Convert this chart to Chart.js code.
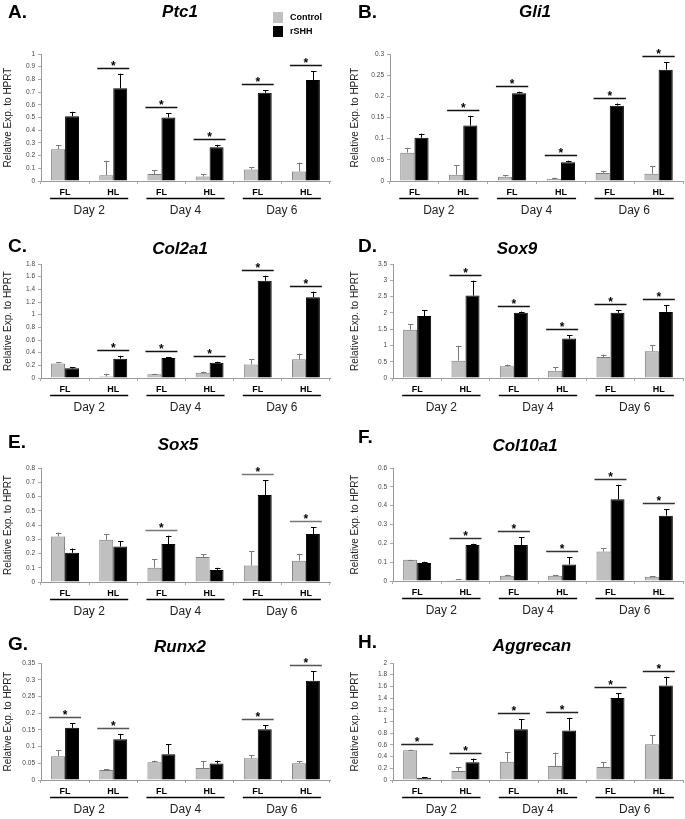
<!DOCTYPE html>
<html><head><meta charset="utf-8">
<script src="https://cdn.jsdelivr.net/npm/chart.js@4.4.1/dist/chart.umd.min.js"></script>
<style>
html,body{margin:0;padding:0;background:#fff;}
#wrap{position:relative;width:685px;height:819px;overflow:hidden;background:#fff;}
#wrap canvas{position:absolute;}
</style></head><body><div id="wrap"></div>
<script>
// ---------- data ----------
const categories = ["FL", "HL", "FL", "HL", "FL", "HL"];
const days = ["Day 2", "Day 4", "Day 6"];
const seriesNames = ["Control", "rSHH"];
const yAxisLabel = "Relative Exp. to HPRT";

const ptc1Control    = [0.25, 0.045, 0.055, 0.035, 0.09, 0.075];
const ptc1ControlErr = [0.03, 0.115, 0.03, 0.02, 0.02, 0.07];
const ptc1RSHH       = [0.51, 0.73, 0.50, 0.265, 0.695, 0.795];
const ptc1RSHHErr    = [0.035, 0.115, 0.035, 0.02, 0.02, 0.07];
const ptc1Sig        = [0, 1, 1, 1, 1, 1];

const gli1Control    = [0.067, 0.015, 0.010, 0.005, 0.019, 0.017];
const gli1ControlErr = [0.011, 0.022, 0.004, 0.003, 0.005, 0.019];
const gli1RSHH       = [0.102, 0.131, 0.207, 0.044, 0.178, 0.263];
const gli1RSHHErr    = [0.010, 0.023, 0.004, 0.004, 0.005, 0.018];
const gli1Sig        = [0, 1, 1, 1, 1, 1];

const col2a1Control    = [0.23, 0.025, 0.058, 0.084, 0.215, 0.295];
const col2a1ControlErr = [0.015, 0.045, 0.01, 0.016, 0.08, 0.09];
const col2a1RSHH       = [0.153, 0.305, 0.316, 0.242, 1.535, 1.274];
const col2a1RSHHErr    = [0.017, 0.045, 0.01, 0.016, 0.08, 0.09];
const col2a1Sig        = [0, 1, 1, 1, 1, 1];

const sox9Control    = [1.48, 0.53, 0.36, 0.225, 0.645, 0.82];
const sox9ControlErr = [0.17, 0.46, 0.05, 0.105, 0.075, 0.18];
const sox9RSHH       = [1.90, 2.53, 2.0, 1.21, 2.0, 2.03];
const sox9RSHHErr    = [0.18, 0.46, 0.04, 0.10, 0.09, 0.21];
const sox9Sig        = [0, 1, 1, 1, 1, 1];

const sox5Control    = [0.32, 0.296, 0.10, 0.176, 0.115, 0.15];
const sox5ControlErr = [0.027, 0.038, 0.058, 0.02, 0.10, 0.048];
const sox5RSHH       = [0.205, 0.249, 0.266, 0.085, 0.61, 0.336];
const sox5RSHHErr    = [0.03, 0.036, 0.059, 0.015, 0.105, 0.047];
const sox5Sig        = [0, 0, 1, 0, 1, 1];

const col10a1Control    = [0.113, 0.007, 0.028, 0.028, 0.156, 0.023];
const col10a1ControlErr = [0.001, 0.001, 0.005, 0.002, 0.017, 0.002];
const col10a1RSHH       = [0.096, 0.191, 0.191, 0.088, 0.434, 0.347];
const col10a1RSHHErr    = [0.006, 0.007, 0.041, 0.038, 0.077, 0.033];
const col10a1Sig        = [0, 1, 1, 1, 1, 1];

const runx2Control    = [0.071, 0.03, 0.053, 0.036, 0.065, 0.05];
const runx2ControlErr = [0.018, 0.002, 0.005, 0.021, 0.009, 0.007];
const runx2RSHH       = [0.156, 0.122, 0.077, 0.049, 0.152, 0.297];
const runx2RSHHErr    = [0.014, 0.016, 0.03, 0.009, 0.012, 0.028];
const runx2Sig        = [1, 1, 0, 0, 1, 1];

const aggrecanControl    = [0.51, 0.154, 0.31, 0.24, 0.223, 0.611];
const aggrecanControlErr = [0.01, 0.063, 0.17, 0.229, 0.086, 0.155];
const aggrecanRSHH       = [0.04, 0.303, 0.869, 0.846, 1.40, 1.617];
const aggrecanRSHHErr    = [0.01, 0.063, 0.171, 0.217, 0.086, 0.149];
const aggrecanSig        = [1, 1, 1, 1, 1, 1];

// y-axis ranges (max, step)
const ptc1Axis = [1, 0.1];
const gli1Axis = [0.3, 0.05];
const col2a1Axis = [1.8, 0.2];
const sox9Axis = [3.5, 0.5];
const sox5Axis = [0.8, 0.1];
const col10a1Axis = [0.6, 0.1];
const runx2Axis = [0.35, 0.05];
const aggrecanAxis = [2, 0.2];

// ---------- layout ----------
const F = "'Liberation Sans', Arial, Helvetica, sans-serif";
const panels = [
  {letter:"A.", gene:"Ptc1", c:ptc1Control, ce:ptc1ControlErr, r:ptc1RSHH, re:ptc1RSHHErr, sig:ptc1Sig, axis:ptc1Axis,
   cx:0, cy:0, cw:342, ch:224, L:41, R:330, T:54, B:181, tx:180, ty:17, lx:8, ly:18, ytx:8, legend:true, sc:'#111'},
  {letter:"B.", gene:"Gli1", c:gli1Control, ce:gli1ControlErr, r:gli1RSHH, re:gli1RSHHErr, sig:gli1Sig, axis:gli1Axis,
   cx:342, cy:0, cw:343, ch:224, L:390, R:683, T:54, B:181, tx:535, ty:17, lx:358, ly:18, ytx:355, sc:'#111'},
  {letter:"C.", gene:"Col2a1", c:col2a1Control, ce:col2a1ControlErr, r:col2a1RSHH, re:col2a1RSHHErr, sig:col2a1Sig, axis:col2a1Axis,
   cx:0, cy:228, cw:342, ch:190, L:41, R:330, T:264, B:378, tx:180, ty:254, lx:8, ly:252, ytx:8, sc:'#111'},
  {letter:"D.", gene:"Sox9", c:sox9Control, ce:sox9ControlErr, r:sox9RSHH, re:sox9RSHHErr, sig:sox9Sig, axis:sox9Axis,
   cx:342, cy:228, cw:343, ch:190, L:393, R:683, T:264, B:378, tx:517, ty:254, lx:358, ly:252, ytx:355, sc:'#111'},
  {letter:"E.", gene:"Sox5", c:sox5Control, ce:sox5ControlErr, r:sox5RSHH, re:sox5RSHHErr, sig:sox5Sig, axis:sox5Axis,
   cx:0, cy:420, cw:342, ch:200, L:41, R:330, T:468, B:582, tx:178, ty:450, lx:8, ly:448, ytx:8, sc:'#777'},
  {letter:"F.", gene:"Col10a1", c:col10a1Control, ce:col10a1ControlErr, r:col10a1RSHH, re:col10a1RSHHErr, sig:col10a1Sig, axis:col10a1Axis,
   cx:342, cy:420, cw:343, ch:200, L:393, R:683, T:468, B:581, tx:525, ty:451, lx:358, ly:443, ytx:355, sc:'#333'},
  {letter:"G.", gene:"Runx2", c:runx2Control, ce:runx2ControlErr, r:runx2RSHH, re:runx2RSHHErr, sig:runx2Sig, axis:runx2Axis,
   cx:0, cy:622, cw:342, ch:197, L:41, R:330, T:663, B:780, tx:180, ty:652, lx:8, ly:650, ytx:8, sc:'#555'},
  {letter:"H.", gene:"Aggrecan", c:aggrecanControl, ce:aggrecanControlErr, r:aggrecanRSHH, re:aggrecanRSHHErr, sig:aggrecanSig, axis:aggrecanAxis,
   cx:342, cy:622, cw:343, ch:197, L:393, R:683, T:663, B:780, tx:532, ty:651, lx:358, ly:648, ytx:355, sc:'#222'}
];

function fmt(v){ return String(Math.round(v * 1000) / 1000); }

function makeDecor(p){
  return {
    id: 'decor',
    afterDatasetsDraw(chart){
      const ctx = chart.ctx, y = chart.scales.y;
      ctx.save();
      chart.data.datasets.forEach((ds, di) => {
        const meta = chart.getDatasetMeta(di);
        meta.data.forEach((el, i) => {
          const top = y.getPixelForValue(ds.data[i] + ds.errors[i]);
          const x = Math.round(el.x) + 0.5;
          ctx.strokeStyle = ds.errColor; ctx.lineWidth = 1;
          ctx.beginPath();
          ctx.moveTo(x, el.y); ctx.lineTo(x, top);
          ctx.moveTo(x - 2.5, Math.round(top) + 0.5); ctx.lineTo(x + 3, Math.round(top) + 0.5);
          ctx.stroke();
        });
      });
      const m0 = chart.getDatasetMeta(0).data, m1 = chart.getDatasetMeta(1).data;
      const d0 = chart.data.datasets[0], d1 = chart.data.datasets[1];
      p.sig.forEach((s, i) => {
        if (!s) return;
        const t0 = y.getPixelForValue(d0.data[i] + d0.errors[i]);
        const t1 = y.getPixelForValue(d1.data[i] + d1.errors[i]);
        const ly = Math.round(Math.min(t0, t1) - 6) + 0.5;
        const left = m0[i].x - m0[i].width / 2 - 2, right = m1[i].x + m1[i].width / 2 + 2;
        ctx.strokeStyle = p.sc; ctx.lineWidth = 1.3;
        ctx.beginPath(); ctx.moveTo(left, ly); ctx.lineTo(right, ly); ctx.stroke();
        ctx.fillStyle = '#000'; ctx.font = 'bold 12px ' + F;
        ctx.textAlign = 'center'; ctx.textBaseline = 'alphabetic';
        ctx.fillText('*', (left + right) / 2, ly + 1);
      });
      ctx.restore();
    },
    afterDraw(chart){
      const ctx = chart.ctx, area = chart.chartArea;
      const m0 = chart.getDatasetMeta(0).data, m1 = chart.getDatasetMeta(1).data;
      ctx.save();
      days.forEach((d, k) => {
        const a = m0[2 * k], b = m1[2 * k + 1];
        const left = a.x - a.width / 2 - 1, right = b.x + b.width / 2 + 1;
        const uy = area.bottom + 17.5;
        ctx.strokeStyle = '#000'; ctx.lineWidth = 1.5;
        ctx.beginPath(); ctx.moveTo(left, uy); ctx.lineTo(right, uy); ctx.stroke();
        ctx.fillStyle = '#222'; ctx.font = '12px ' + F;
        ctx.textAlign = 'center'; ctx.textBaseline = 'middle';
        ctx.fillText(d, (left + right) / 2, area.bottom + 30);
      });
      ctx.fillStyle = '#000';
      ctx.textBaseline = 'alphabetic';
      ctx.textAlign = 'left';
      ctx.font = 'bold 19px ' + F;
      ctx.fillText(p.letter, p.lx - p.cx, p.ly - p.cy);
      ctx.textAlign = 'center';
      ctx.font = 'italic bold 17px ' + F;
      ctx.fillText(p.gene, p.tx - p.cx, p.ty - p.cy);
      if (p.legend) {
        chart.data.datasets.forEach((ds, di) => {
          const bx = 273 - p.cx, by = 12 + di * 14 - p.cy;
          ctx.fillStyle = ds.backgroundColor;
          ctx.fillRect(bx, by, 10, 11);
          ctx.fillStyle = '#000'; ctx.font = 'bold 9px ' + F;
          ctx.textAlign = 'left'; ctx.textBaseline = 'middle';
          ctx.fillText(ds.label, bx + 17, by + 6);
        });
      }
      ctx.restore();
    }
  };
}

const wrap = document.getElementById('wrap');
panels.forEach(p => {
  const c = document.createElement('canvas');
  c.width = p.cw; c.height = p.ch;
  c.style.left = p.cx + 'px'; c.style.top = p.cy + 'px';
  c.style.width = p.cw + 'px'; c.style.height = p.ch + 'px';
  wrap.appendChild(c);
  const padLeft = p.ytx - 8 - p.cx;
  const yW = p.L - p.cx - padLeft;
  const xH = 16;
  new Chart(c, {
    type: 'bar',
    data: {
      labels: categories,
      datasets: [
        {label: seriesNames[0], data: p.c, errors: p.ce, backgroundColor: '#c0c0c0', borderColor: '#7a7a7a', borderWidth: 1, errColor: '#7a7a7a'},
        {label: seriesNames[1], data: p.r, errors: p.re, backgroundColor: '#000000', borderColor: '#000000', borderWidth: 1, errColor: '#000000'}
      ]
    },
    options: {
      responsive: false, animation: false, devicePixelRatio: 1,
      layout: {padding: {left: padLeft, top: p.T - p.cy, right: p.cx + p.cw - p.R, bottom: p.cy + p.ch - p.B - xH}},
      datasets: {bar: {categoryPercentage: 0.58, barPercentage: 1}},
      plugins: {legend: {display: false}, tooltip: {enabled: false}},
      scales: {
        x: {
          grid: {offset: true, drawOnChartArea: false, tickLength: 3, color: '#aaa'},
          border: {color: '#999'},
          ticks: {font: {family: F, size: 9, weight: 'bold'}, color: '#000', padding: 3, maxRotation: 0, autoSkip: false},
          afterFit(s){ s.height = xH; s.paddingLeft = 0; s.paddingRight = 0; }
        },
        y: {
          min: 0, max: p.axis[0],
          ticks: {stepSize: p.axis[1], font: {family: F, size: 6.5}, color: '#444', padding: 3, callback: v => fmt(v)},
          grid: {drawOnChartArea: false, tickLength: 3, color: '#aaa'},
          border: {color: '#999'},
          title: {display: true, text: yAxisLabel, font: {family: F, size: 10}, color: '#222', padding: {top: 2, bottom: 0}},
          afterFit(s){ s.width = yW; s.paddingTop = 0; s.paddingBottom = 0; }
        }
      }
    },
    plugins: [makeDecor(p)]
  });
});
</script>
</body></html>
